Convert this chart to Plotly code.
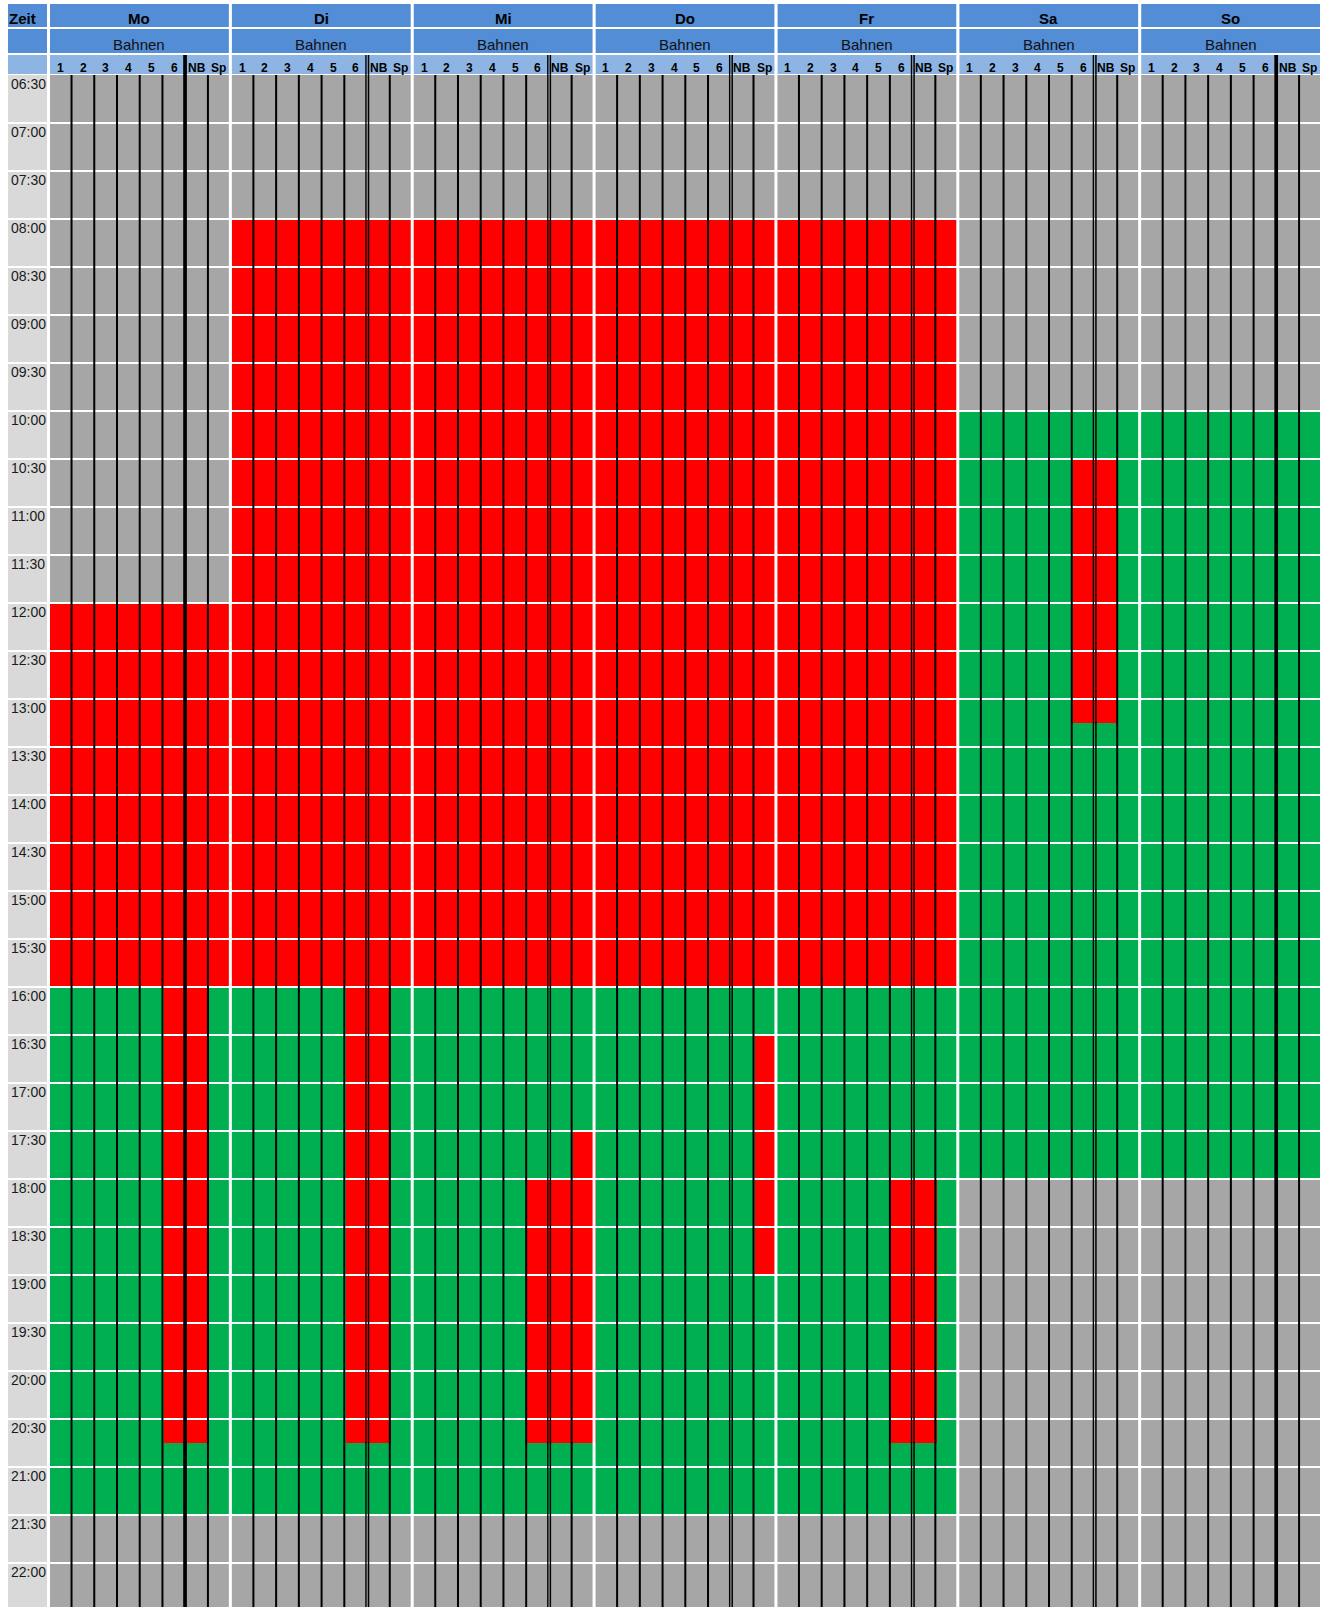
import plotly.graph_objects as go

# ---------------- data ----------------
days = ["Mo", "Di", "Mi", "Do", "Fr", "Sa", "So"]
lanes = ["1", "2", "3", "4", "5", "6", "NB", "Sp"]
group_label = "Bahnen"
time_labels = ["06:30", "07:00", "07:30", "08:00", "08:30", "09:00", "09:30", "10:00",
               "10:30", "11:00", "11:30", "12:00", "12:30", "13:00", "13:30", "14:00",
               "14:30", "15:00", "15:30", "16:00", "16:30", "17:00", "17:30", "18:00",
               "18:30", "19:00", "19:30", "20:00", "20:30", "21:00", "21:30", "22:00"]

# opening hours per day (free = green)
open_start = ["12:00", "08:00", "08:00", "08:00", "08:00", "10:00", "10:00"]
open_end = ["21:30", "21:30", "21:30", "21:30", "21:30", "18:00", "18:00"]
# whole-pool bookings per day (red)
full_start = ["12:00", "08:00", "08:00", "08:00", "08:00", None, None]
full_end = ["16:00", "16:00", "16:00", "16:00", "16:00", None, None]
# single-lane bookings (red)
booking_day = ["Mo", "Di", "Mi", "Mi", "Do", "Fr", "Sa"]
booking_lanes = [["6", "NB"], ["6", "NB"], ["Sp"], ["6", "NB"], ["Sp"], ["6", "NB"], ["6", "NB"]]
booking_start = ["16:00", "16:00", "17:30", "18:00", "16:30", "18:00", "10:30"]
booking_end = ["20:45", "20:45", "20:45", "20:45", "19:00", "20:45", "13:15"]
# style of the separator between lane 6 and NB per day
separator_style = ["thick", "double", "double", "double", "double", "double", "thick"]

# ---------------- styling ----------------
C_CLOSED, C_FREE, C_BOOKED = "#a6a6a6", "#00b050", "#ff0000"
C_HEAD, C_LANE, C_TIME = "#538dd5", "#8db4e2", "#d9d9d9"
FONT = "Liberation Sans, Arial, sans-serif"

W, H = 1327, 1607
MT, ML, MR, MB = 75, 50, 4, 0
PLOT_H = H - MT - MB
PX_PER_MIN = 48 / 30.0
SLOT = 15


def mins(s):
    h, m = s.split(":")
    return int(h) * 60 + int(m)


def py(px):  # figure pixel (from top) -> paper y
    return (H - MB - px) / PLOT_H


NL = len(lanes)
ND = len(days)
t0 = mins(time_labels[0])
n_slots = (len(time_labels) + 1) * 2
slot_start = [t0 + SLOT * i for i in range(n_slots)]

CLOSED, FREE, BOOKED = 0, 1, 2
lane_idx = {l: i for i, l in enumerate(lanes)}
z = [[CLOSED] * (ND * NL) for _ in range(n_slots)]
for d in range(ND):
    for i, s in enumerate(slot_start):
        st = CLOSED
        if mins(open_start[d]) <= s < mins(open_end[d]):
            st = FREE
        if full_start[d] and mins(full_start[d]) <= s < mins(full_end[d]):
            st = BOOKED
        for l in range(NL):
            z[i][d * NL + l] = st
for day, ls, bs, be in zip(booking_day, booking_lanes, booking_start, booking_end):
    d = days.index(day)
    for i, s in enumerate(slot_start):
        if mins(bs) <= s < mins(be):
            for l in ls:
                z[i][d * NL + lane_idx[l]] = BOOKED

x_centers = [c + 0.5 for c in range(ND * NL)]
y_centers = [s + SLOT / 2 for s in slot_start]

fig = go.Figure(go.Heatmap(
    x=x_centers, y=y_centers, z=z, zmin=0, zmax=2,
    colorscale=[[0, C_CLOSED], [0.25, C_CLOSED], [0.25, C_FREE], [0.75, C_FREE],
                [0.75, C_BOOKED], [1, C_BOOKED]],
    showscale=False, hoverinfo="skip", xgap=0, ygap=0,
))

shapes = []
ann = []

# --- header: Zeit column
for (top, bot, col) in [(4, 27, C_HEAD), (29, 53, C_HEAD), (55, 74, C_LANE)]:
    shapes.append(dict(type="rect", xref="paper", xsizemode="pixel", xanchor=0, x0=-42, x1=-3,
                       yref="paper", y0=py(bot), y1=py(top), fillcolor=col, line_width=0, layer="above"))
ann.append(dict(text="<b>Zeit</b>", xref="paper", x=0, xanchor="left", xshift=-43,
                yref="paper", y=py(18.8), yanchor="middle", showarrow=False,
                font=dict(family=FONT, size=15, color="#000")))

# --- header: days
for d, day in enumerate(days):
    for (top, bot, col) in [(4, 27, C_HEAD), (29, 53, C_HEAD), (55, 74, C_LANE)]:
        shapes.append(dict(type="rect", xref="x", x0=d * NL, x1=(d + 1) * NL,
                           yref="paper", y0=py(bot), y1=py(top), fillcolor=col, line_width=0, layer="above"))
    ann.append(dict(text="<b>%s</b>" % day, xref="x", x=d * NL + NL / 2, xshift=-1.5,
                    yref="paper", y=py(18.8), yanchor="middle", showarrow=False,
                    font=dict(family=FONT, size=15, color="#000")))
    ann.append(dict(text=group_label, xref="x", x=d * NL + NL / 2, xshift=-1.5,
                    yref="paper", y=py(44.5), yanchor="middle", showarrow=False,
                    font=dict(family=FONT, size=15, color="#111")))
    for l, lane in enumerate(lanes):
        ann.append(dict(text="<b>%s</b>" % lane, xref="x", x=d * NL + l + 0.5,
                        xshift=-1 if l < NL - 1 else -2,
                        yref="paper", y=py(68), yanchor="middle", showarrow=False,
                        font=dict(family=FONT, size=12, color="#000")))

# --- time label column
for t in time_labels:
    tm = mins(t)
    shapes.append(dict(type="rect", xref="paper", xsizemode="pixel", xanchor=0, x0=-42, x1=-3,
                       yref="y", y0=tm, y1=tm + 30, fillcolor=C_TIME, line_width=0, layer="above"))
    ann.append(dict(text=t, xref="paper", x=0, xanchor="left", xshift=-41,
                    yref="y", y=tm, yanchor="top", yshift=1, showarrow=False,
                    font=dict(family=FONT, size=14, color="#1a1a1a")))

# --- white half-hour separators
for t in time_labels[1:] + ["22:30"]:
    tm = mins(t)
    shapes.append(dict(type="line", xref="paper", xsizemode="pixel", xanchor=0, x0=-45, x1=1300,
                       yref="y", y0=tm, y1=tm, line=dict(color="white", width=2), layer="above"))

# --- white day separators
for d in range(ND):
    shapes.append(dict(type="rect", xref="x", xsizemode="pixel", xanchor=(d + 1) * NL, x0=-3, x1=0,
                       yref="paper", y0=0, y1=py(0), fillcolor="white", line_width=0, layer="above"))

# --- black lane separators
sep_lane = lanes.index("NB")
for d in range(ND):
    for k in range(1, NL):
        b = d * NL + k
        if k == sep_lane:
            if separator_style[d] == "thick":
                parts = [(-3.2, 0.5)]
            else:
                parts = [(-3.0, -1.6), (-0.5, 1.0)]
            ytop = py(55)
        else:
            parts = [(-2.2, -0.2)]
            ytop = 1
        for (a, c) in parts:
            shapes.append(dict(type="rect", xref="x", xsizemode="pixel", xanchor=b, x0=a, x1=c,
                               yref="paper", y0=0, y1=ytop, fillcolor="black", line_width=0,
                               layer="above"))

fig.update_layout(
    width=W, height=H,
    margin=dict(l=ML, r=MR, t=MT, b=MB, pad=0),
    paper_bgcolor="white", plot_bgcolor="white",
    xaxis=dict(range=[0, ND * NL], visible=False, fixedrange=True),
    yaxis=dict(range=[t0 + PLOT_H / PX_PER_MIN, t0], visible=False, fixedrange=True),
    shapes=shapes, annotations=ann, showlegend=False,
)

fig.write_html(
    "out.html",
    config={"displayModeBar": False},
    post_script="document.body.style.margin='0';document.body.style.overflow='hidden';",
)
